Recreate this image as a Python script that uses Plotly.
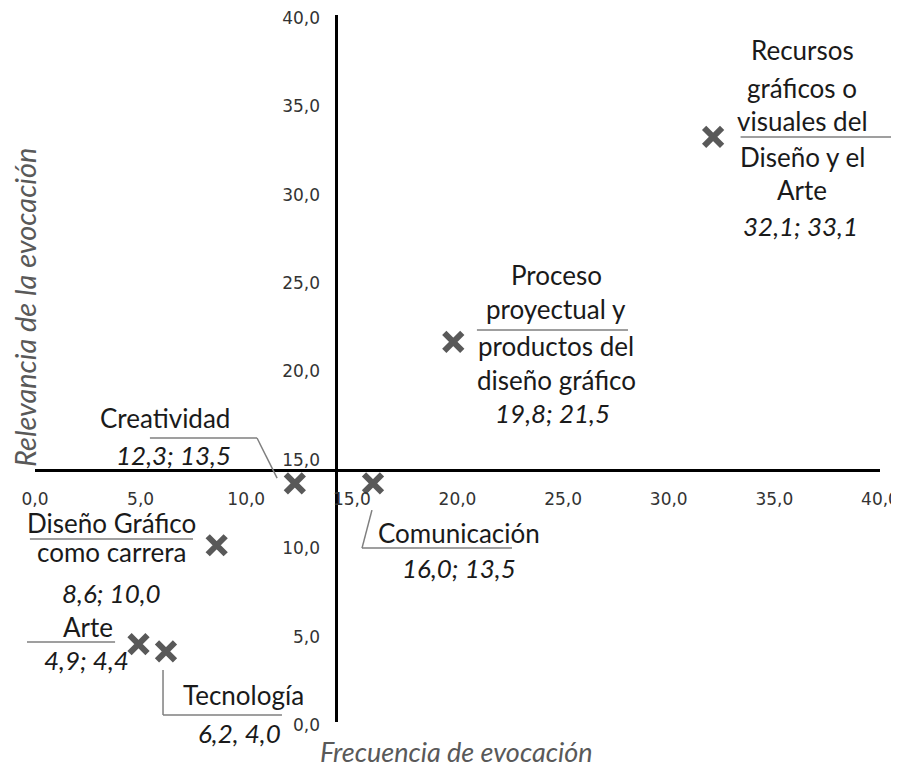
import plotly.graph_objects as go

# ---------------- data ----------------
categories = [
    "Recursos gráficos o visuales del Diseño y el Arte",
    "Proceso proyectual y productos del diseño gráfico",
    "Creatividad",
    "Comunicación",
    "Diseño Gráfico como carrera",
    "Arte",
    "Tecnología",
]
frecuencia = [32.1, 19.8, 12.3, 16.0, 8.6, 4.9, 6.2]
relevancia = [33.1, 21.5, 13.5, 13.5, 10.0, 4.4, 4.0]
value_labels = ["32,1; 33,1", "19,8; 21,5", "12,3; 13,5", "16,0; 13,5",
                "8,6; 10,0", "4,9; 4,4", "6,2, 4,0"]
name_lines = [
    ["Recursos", "gráficos o", "visuales del", "Diseño y el", "Arte"],
    ["Proceso", "proyectual y", "productos del", "diseño gráfico"],
    ["Creatividad"],
    ["Comunicación"],
    ["Diseño Gráfico", "como carrera"],
    ["Arte"],
    ["Tecnología"],
]
tick_vals = [0, 5, 10, 15, 20, 25, 30, 35, 40]
tick_text = ["0,0", "5,0", "10,0", "15,0", "20,0", "25,0", "30,0", "35,0", "40,0"]
x_title = "Frecuencia de evocación"
y_title = "Relevancia de la evocación"

# ---------------- label layout (data units) ----------------
# position of each text line (name lines then value line)
label_pos = [
    [(36.31, 38.02), (36.31, 35.87), (36.31, 34.00), (36.31, 31.97), (36.31, 30.10), (36.26, 28.06)],
    [(24.68, 25.29), (24.68, 23.37), (24.68, 21.27), (24.68, 19.35), (24.50, 17.48)],
    [(6.15, 17.20), (6.56, 15.11)],
    [(20.09, 10.69), (20.07, 8.71)],
    [(3.64, 11.26), (3.60, 9.62), (3.60, 7.30)],
    [(2.49, 5.37), (2.46, 3.51)],
    [(9.89, 1.53), (9.66, -0.62)],
]
leaders = [
    [(33.4, 33.1), (40.6, 33.1)],
    [(20.92, 22.18), (28.07, 22.18)],
    [(5.44, 16.07), (10.51, 16.07), (11.46, 13.80)],
    [(15.95, 11.99), (15.48, 9.84), (22.58, 9.84)],
    [(-0.24, 10.35), (7.48, 10.35)],
    [(-0.38, 4.53), (3.79, 4.53)],
    [(6.06, 2.94), (6.06, 0.40), (11.69, 0.40)],
]

X_MAX = 40.0
Y_MAX = 40.0
x_cross = sum(frecuencia) / len(frecuencia)
y_cross = sum(relevancia) / len(relevancia)

TEXT_FONT = dict(family="Lato", size=26, color="#1a1a1a")
MARK_COLOR = "#595959"
TICK_FONT = dict(family="DejaVu Sans", size=17, color="#333333")

fig = go.Figure()
fig.add_trace(go.Scatter(
    x=frecuencia, y=relevancia, mode="markers",
    text=categories, hoverinfo="text",
    marker=dict(symbol="x-thin", size=18, line=dict(width=6, color=MARK_COLOR), color=MARK_COLOR),
    showlegend=False, cliponaxis=False,
))

annotations = []
for lines, val, pos in zip(name_lines, value_labels, label_pos):
    texts = lines + ["<i>" + val + "</i>"]
    for t, (px, py) in zip(texts, pos):
        annotations.append(dict(
            x=px / X_MAX, y=py / Y_MAX, xref="paper", yref="paper", text=t, showarrow=False,
            xanchor="center", yanchor="middle", font=TEXT_FONT,
        ))

shapes = []
for pts in leaders:
    for (x0, y0), (x1, y1) in zip(pts[:-1], pts[1:]):
        shapes.append(dict(
            type="line", xref="paper", yref="paper",
            x0=x0 / X_MAX, y0=y0 / Y_MAX, x1=x1 / X_MAX, y1=y1 / Y_MAX,
            line=dict(color="#7f7f7f", width=1.5),
        ))

annotations.append(dict(
    x=0.4994, y=-0.0424, xref="paper", yref="paper", text="<i>" + x_title + "</i>",
    showarrow=False, xanchor="center", yanchor="middle",
    font=dict(family="Lato", size=27, color="#595959"),
))
annotations.append(dict(
    x=-0.0118, y=0.5856, xref="paper", yref="paper", text="<i>" + y_title + "</i>",
    showarrow=False, xanchor="center", yanchor="middle", textangle=-90,
    font=dict(family="Lato", size=29, color="#595959"),
))

# the page body adds an 8 px offset, so the figure is sized/margined to compensate
fig.update_layout(
    width=891, height=761,
    margin=dict(l=27, r=19, t=7, b=47, autoexpand=False),
    paper_bgcolor="white", plot_bgcolor="white",
    separators=",.",
    xaxis=dict(
        range=[0, X_MAX], anchor="free", position=y_cross / Y_MAX,
        tickmode="array", tickvals=tick_vals, ticktext=tick_text,
        showgrid=False, zeroline=False, showline=True, linecolor="black", linewidth=3,
        ticks="", ticklabelstandoff=13, automargin=False, ticklabeloverflow="allow",
        tickfont=TICK_FONT,
    ),
    yaxis=dict(
        range=[0, Y_MAX], anchor="free", position=x_cross / X_MAX,
        tickmode="array", tickvals=tick_vals, ticktext=tick_text,
        showgrid=False, zeroline=False, showline=True, linecolor="black", linewidth=3,
        ticks="", ticklabelstandoff=12, ticklabelshift=3, automargin=False,
        ticklabeloverflow="allow", tickfont=TICK_FONT,
    ),
    annotations=annotations,
    shapes=shapes,
)

fig.write_html("out.html")
